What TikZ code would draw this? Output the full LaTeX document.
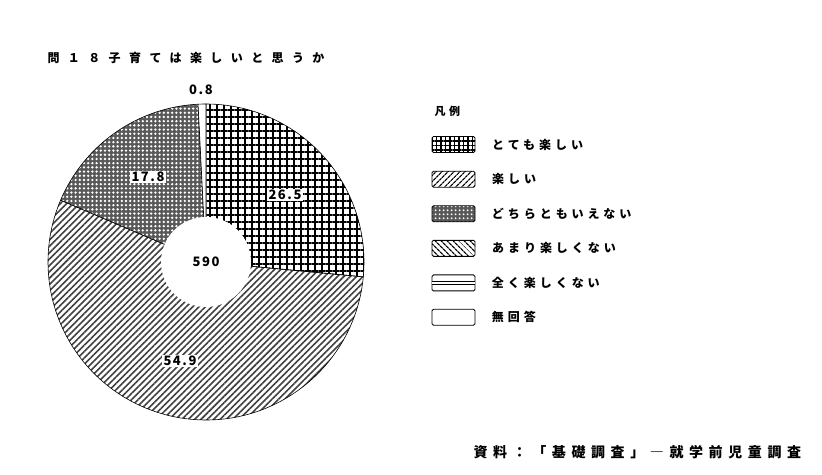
\documentclass[tikz,border=0pt]{standalone}
\usepackage{fontspec}
\newfontfamily\jpwide{Noto Sans CJK JP}[LetterSpace=70]
\newfontfamily\jpkey{Noto Sans CJK JP}[LetterSpace=33]
\newfontfamily\jpsrc{Noto Sans CJK JP}[LetterSpace=40]
\newfontfamily\numfont{Noto Sans CJK JP}[LetterSpace=12]
\usetikzlibrary{patterns.meta,positioning}

\begin{document}
\begin{tikzpicture}[x=1pt, y=1pt,
    slice/.style={draw=black, line width=0.6pt},
    pct/.style={fill=white, inner sep=1.2pt, font=\numfont\bfseries\fontsize{13}{13}\selectfont},
    key/.style={draw=black, line width=0.9pt, rounded corners=1.5pt, minimum width=43pt, minimum height=16pt, inner sep=0pt},
    keytext/.style={right=13pt of #1, font=\jpkey\bfseries\fontsize{12}{12}\selectfont}]
  \useasboundingbox (0,0) rectangle (822,474);
  \node [anchor=west, font=\jpwide\bfseries\fontsize{12}{12}\selectfont] (title) at (44,416) {問１８子育ては楽しいと思うか};
  \coordinate (c) at (206,212);
  \draw [slice, pattern={Hatch[angle=0,distance=7pt,line width=1.6pt]}]
    (c) -- ++(90:158) arc [start angle=90, end angle=-5.4, radius=158] -- cycle;
  \draw [slice, pattern={Lines[angle=45,distance=4.5pt,line width=1.6pt]}, pattern color=black!75]
    (c) -- ++(-5.4:158) arc [start angle=-5.4, end angle=-203.04, radius=158] -- cycle;
  \draw [slice, preaction={fill=black!65}, pattern={Dots[radius=1.3pt,distance=4.2pt]}, pattern color=white]
    (c) -- ++(156.96:158) arc [start angle=156.96, end angle=92.88, radius=158] -- cycle;
  \draw [slice, fill=white]
    (c) -- ++(92.88:158) arc [start angle=92.88, end angle=90, radius=158] -- cycle;
  \node [circle, fill=white, minimum size=90pt, inner sep=0pt, font=\numfont\bfseries\fontsize{13}{13}\selectfont] (total) at (c) {590};
  \node [pct] (p1) at (285,279) {26.5};
  \node [pct] (p2) at (180,113) {54.9};
  \node [pct] (p3) at (148,297) {17.8};
  \node [font=\numfont\bfseries\fontsize{13}{13}\selectfont] (p4) at (201,384) {0.8};
  % legend
  \node [anchor=west, font=\jpkey\bfseries\fontsize{11}{11}\selectfont] (legend) at (431,363) {凡例};
  \node [key, pattern={Hatch[angle=0,distance=4.5pt,line width=1.3pt]}] (k1) at (453.5,329.5) {};
  \node [keytext=k1] (t1) {とても楽しい};
  \node [key, below=17.5pt of k1, pattern={Lines[angle=45,distance=4pt,line width=1.2pt]}] (k2) {};
  \node [keytext=k2] (t2) {楽しい};
  \node [key, below=17.5pt of k2, preaction={fill=black!65}, pattern={Dots[radius=1.2pt,distance=4pt]}, pattern color=white] (k3) {};
  \node [keytext=k3] (t3) {どちらともいえない};
  \node [key, below=17.5pt of k3, pattern={Lines[angle=-45,distance=4pt,line width=1.2pt]}] (k4) {};
  \node [keytext=k4] (t4) {あまり楽しくない};
  \node [key, below=17.5pt of k4] (k5) {};
  \draw [double, double distance=1.5pt, line width=0.9pt] (k5.west) -- (k5.east);
  \node [keytext=k5] (t5) {全く楽しくない};
  \node [key, below=17.5pt of k5] (k6) {};
  \node [keytext=k6] (t6) {無回答};
  \node [anchor=west, font=\jpsrc\bfseries\fontsize{14}{14}\selectfont] (source) at (470,22) {資料：「基礎調査」―就学前児童調査};
\end{tikzpicture}
\end{document}
